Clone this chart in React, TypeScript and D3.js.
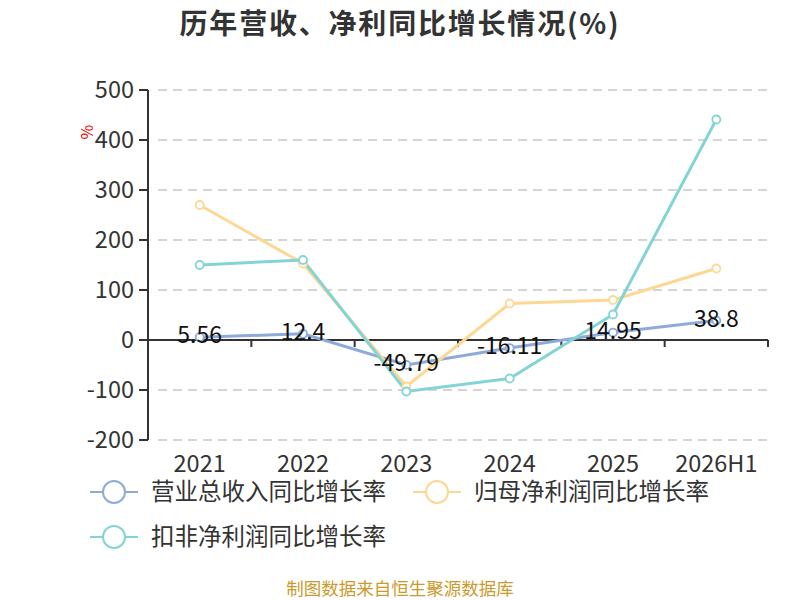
import React from "react";
import * as d3 from "d3";

const categories = ["2021", "2022", "2023", "2024", "2025", "2026H1"];
const revenueGrowth = [5.56, 12.4, -49.79, -16.11, 14.95, 38.8];
const netProfitGrowth = [270, 153, -93, 73, 80, 143];
const deductedProfitGrowth = [150, 160, -103, -77, 51, 441];
const yTicks = [-200, -100, 0, 100, 200, 300, 400, 500];
const seriesNames = ["营业总收入同比增长率", "归母净利润同比增长率", "扣非净利润同比增长率"];

const colors = ["#8eaadb", "#fdd794", "#84d4d6"];
const FONT = "'Noto Sans CJK SC', 'Noto Sans', sans-serif";

export default function App() {
  const W = 800, H = 600;
  const left = 148, right = 768, top = 90, bottom = 440;
  const x = d3.scaleBand<string>().domain(categories).range([left, right]);
  const y = d3.scaleLinear().domain([-200, 500]).range([bottom, top]);
  const cx = (c: string) => (x(c) as number) + x.bandwidth() / 2;
  const line = d3.line<number>().x((_, i) => cx(categories[i])).y((d) => y(d));
  const series = [revenueGrowth, netProfitGrowth, deductedProfitGrowth];
  const zeroY = y(0);

  return (
    <svg width={W} height={H} style={{ position: "absolute", left: 0, top: 0, fontFamily: FONT }}>
      <rect width={W} height={H} fill="#fff" />
      <text x={400} y={24} dy="0.35em" textAnchor="middle" fontSize={28} fontWeight="bold" fill="#333" letterSpacing={1.8}>
        历年营收、净利同比增长情况(%)
      </text>
      {/* grid */}
      {yTicks.map((t) => (
        <line key={"g" + t} x1={left + 10} x2={right} y1={y(t)} y2={y(t)} stroke="#c8c8c8" strokeWidth={1.5} strokeDasharray="9,6" />
      ))}
      {/* y axis */}
      <line x1={left} x2={left} y1={top} y2={bottom} stroke="#333" strokeWidth={2} />
      {yTicks.map((t) => (
        <g key={"t" + t}>
          <line x1={left - 9} x2={left} y1={y(t)} y2={y(t)} stroke="#333" strokeWidth={2} />
          <text x={left - 14} y={y(t)} dy="0.35em" textAnchor="end" fontSize={23.5} fill="#333">{t}</text>
        </g>
      ))}
      <text transform={`translate(87,132) rotate(-90)`} dy="0.35em" textAnchor="middle" fontSize={16} fill="#e00">%</text>
      {/* x axis */}
      <line x1={left} x2={right} y1={zeroY} y2={zeroY} stroke="#333" strokeWidth={2} />
      {categories.map((c, i) => (
        <line key={"xt" + i} x1={(x(c) as number) + x.bandwidth()} x2={(x(c) as number) + x.bandwidth()} y1={zeroY} y2={zeroY + 7} stroke="#333" strokeWidth={2} />
      ))}
      {categories.map((c) => (
        <text key={"xl" + c} x={cx(c)} y={464} dy="0.35em" textAnchor="middle" fontSize={23.5} fill="#333">{c}</text>
      ))}
      {/* lines */}
      {series.map((s, k) => (
        <path key={"l" + k} d={line(s) || ""} fill="none" stroke={colors[k]} strokeWidth={3} />
      ))}
      {series.map((s, k) =>
        s.map((v, i) => (
          <circle key={"c" + k + i} cx={cx(categories[i])} cy={y(v)} r={4} fill="#fff" stroke={colors[k]} strokeWidth={1.8} />
        ))
      )}
      {revenueGrowth.map((v, i) => (
        <text key={"dl" + i} x={cx(categories[i])} y={y(v) - 2} dy="0.35em" textAnchor="middle" fontSize={23} fill="#111">{v}</text>
      ))}
      {/* legend */}
      {seriesNames.map((n, k) => {
        const lx = k === 1 ? 413 : 90;
        const ly = k === 2 ? 537 : 492;
        return (
          <g key={"lg" + k}>
            <line x1={lx} x2={lx + 48} y1={ly} y2={ly} stroke={colors[k]} strokeWidth={2} />
            <circle cx={lx + 24} cy={ly} r={11} fill="#fff" stroke={colors[k]} strokeWidth={2} />
            <text x={lx + 61} y={ly} dy="0.35em" fontSize={23.5} fill="#333">{n}</text>
          </g>
        );
      })}
      <text x={400} y={589} dy="0.35em" textAnchor="middle" fontSize={17.5} fill="#cc9a2c">制图数据来自恒生聚源数据库</text>
    </svg>
  );
}
